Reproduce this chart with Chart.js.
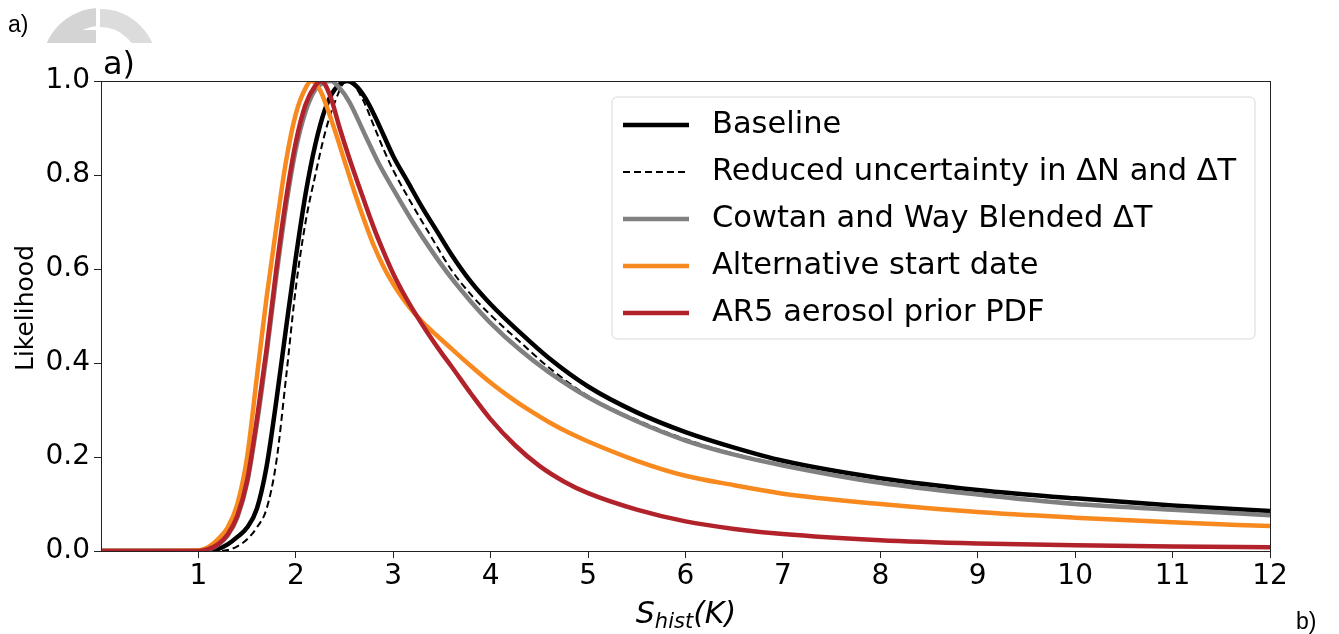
<!DOCTYPE html>
<html>
<head>
<meta charset="utf-8">
<script src="https://cdn.jsdelivr.net/npm/chart.js@4.4.1/dist/chart.umd.min.js"></script>
<style>
  html, body { margin: 0; padding: 0; background: #ffffff; }
  #wrap { position: relative; width: 1339px; height: 634px; }
  canvas { display: block; }
</style>
</head>
<body>
<div id="wrap"><canvas id="c" width="1339" height="634"></canvas></div>
<script>
// ---------- data ----------
const seriesLabels = [
  "Baseline",
  "Reduced uncertainty in \u0394N and \u0394T",
  "Cowtan and Way Blended \u0394T",
  "Alternative start date",
  "AR5 aerosol prior PDF"
];

const xBaseline = [0, 1.1, 1.2, 1.3, 1.4, 1.5, 1.6, 1.7, 1.8, 1.9, 2.0, 2.1, 2.2, 2.3, 2.4, 2.53, 2.6, 2.7, 2.8, 2.9, 3.0, 3.15, 3.3, 3.45, 3.6, 3.8, 4.0, 4.3, 4.6, 5.0, 5.5, 6.0, 6.5, 7, 8, 9, 10, 11, 12];
const yBaseline = [0, 0, 0.004, 0.014, 0.03, 0.05, 0.09, 0.18, 0.32, 0.475, 0.625, 0.76, 0.865, 0.94, 0.982, 1.0, 0.993, 0.968, 0.93, 0.885, 0.84, 0.785, 0.73, 0.68, 0.63, 0.572, 0.525, 0.465, 0.41, 0.35, 0.295, 0.253, 0.22, 0.192, 0.155, 0.13, 0.112, 0.097, 0.085];

const xReduced = [0, 1.2, 1.3, 1.4, 1.5, 1.6, 1.7, 1.8, 1.9, 2.0, 2.1, 2.2, 2.3, 2.4, 2.52, 2.6, 2.7, 2.8, 2.9, 3.0, 3.2, 3.4, 3.6, 3.8, 4.0, 4.3, 4.6, 5.0, 5.5, 6.0, 6.5, 7, 8, 9, 10, 11, 12];
const yReduced = [0, 0, 0.002, 0.01, 0.025, 0.05, 0.09, 0.19, 0.37, 0.56, 0.70, 0.80, 0.89, 0.955, 1.0, 0.99, 0.955, 0.905, 0.855, 0.81, 0.735, 0.665, 0.597, 0.545, 0.502, 0.445, 0.39, 0.33, 0.279, 0.238, 0.207, 0.184, 0.147, 0.122, 0.102, 0.089, 0.078];

const xCowtan = [0, 1.0, 1.1, 1.2, 1.3, 1.4, 1.5, 1.6, 1.7, 1.8, 1.9, 2.0, 2.1, 2.2, 2.3, 2.36, 2.45, 2.55, 2.7, 2.85, 3.0, 3.2, 3.4, 3.6, 3.8, 4.0, 4.3, 4.6, 5.0, 5.5, 6.0, 6.5, 7, 8, 9, 10, 11, 12];
const yCowtan = [0, 0, 0.003, 0.013, 0.033, 0.072, 0.145, 0.27, 0.42, 0.585, 0.735, 0.855, 0.935, 0.982, 0.998, 1.0, 0.985, 0.955, 0.89, 0.825, 0.77, 0.70, 0.637, 0.58, 0.53, 0.485, 0.428, 0.38, 0.327, 0.276, 0.235, 0.205, 0.182, 0.145, 0.12, 0.10, 0.088, 0.076];

const xAltStart = [0, 1.0, 1.1, 1.2, 1.3, 1.4, 1.5, 1.6, 1.7, 1.8, 1.9, 2.0, 2.1, 2.16, 2.25, 2.4, 2.5, 2.6, 2.7, 2.8, 2.9, 3.0, 3.1, 3.2, 3.3, 3.45, 3.6, 3.8, 4.0, 4.2, 4.4, 4.6, 4.8, 5.0, 5.5, 6.0, 6.5, 7, 8, 9, 10, 11, 12];
const yAltStart = [0, 0.001, 0.008, 0.025, 0.05, 0.10, 0.20, 0.37, 0.54, 0.69, 0.83, 0.93, 0.985, 1.0, 0.98, 0.895, 0.83, 0.765, 0.705, 0.65, 0.605, 0.568, 0.537, 0.51, 0.487, 0.458, 0.43, 0.393, 0.358, 0.327, 0.299, 0.274, 0.252, 0.233, 0.192, 0.16, 0.14, 0.122, 0.10, 0.083, 0.071, 0.061, 0.053];

const xAR5 = [0, 1.0, 1.1, 1.2, 1.3, 1.4, 1.5, 1.6, 1.7, 1.8, 1.9, 2.0, 2.1, 2.2, 2.26, 2.35, 2.45, 2.55, 2.65, 2.8, 2.9, 3.0, 3.1, 3.2, 3.35, 3.5, 3.6, 3.8, 4.0, 4.25, 4.5, 4.75, 5.0, 5.5, 6.0, 6.5, 7, 8, 9, 10, 11, 12];
const yAR5 = [0, 0, 0.004, 0.014, 0.035, 0.075, 0.15, 0.28, 0.43, 0.60, 0.75, 0.87, 0.95, 0.99, 1.0, 0.97, 0.9, 0.835, 0.775, 0.688, 0.637, 0.59, 0.55, 0.514, 0.465, 0.42, 0.392, 0.334, 0.28, 0.225, 0.181, 0.148, 0.123, 0.088, 0.063, 0.047, 0.036, 0.023, 0.016, 0.012, 0.0095, 0.008];

const xTickValues = [1, 2, 3, 4, 5, 6, 7, 8, 9, 10, 11, 12];
const yTickValues = [0, 0.2, 0.4, 0.6, 0.8, 1.0];

// ---------- build datasets ----------
function pts(xs, ys) { return xs.map((x, i) => ({ x: x, y: ys[i] })); }

const seriesX = [xBaseline, xReduced, xCowtan, xAltStart, xAR5];
const seriesY = [yBaseline, yReduced, yCowtan, yAltStart, yAR5];
const seriesColors = ["#000000", "#000000", "#808080", "#f7891f", "#b2222a"];
const seriesWidths = [4.5, 2, 4.5, 4.5, 4.5];
const seriesDash = [[], [7, 4], [], [], []];
const seriesOrder = [5, 4, 3, 2, 1];

const datasets = seriesLabels.map((lab, i) => ({
  label: lab,
  data: pts(seriesX[i], seriesY[i]),
  borderColor: seriesColors[i],
  backgroundColor: seriesColors[i],
  borderWidth: seriesWidths[i],
  borderDash: seriesDash[i],
  pointRadius: 0,
  fill: false,
  cubicInterpolationMode: 'monotone',
  order: seriesOrder[i]
}));

const FONT = "'DejaVu Sans', sans-serif";

// ---------- plugins ----------
const decorPlugin = {
  id: 'decor',
  beforeDraw(chart) {
    const ctx = chart.ctx;
    ctx.save();
    ctx.fillStyle = '#ffffff';
    ctx.fillRect(0, 0, chart.width, chart.height);
    // faint cut-off logo at top-left
    ctx.beginPath();
    ctx.rect(0, 0, chart.width, 43);
    ctx.clip();
    ctx.fillStyle = '#d4d4d4';
    ctx.beginPath();
    ctx.arc(100, 66, 58, Math.PI, 1.5 * Math.PI);
    ctx.lineTo(97, 66);
    ctx.closePath();
    ctx.fill();
    ctx.fillStyle = '#ffffff';
    ctx.beginPath();
    ctx.arc(100, 66, 40, 0.92 * Math.PI, 1.5 * Math.PI);
    ctx.lineTo(100, 66);
    ctx.closePath();
    ctx.fill();
    ctx.fillStyle = '#d4d4d4';
    ctx.fillRect(57, 30, 40, 13);
    ctx.strokeStyle = '#dcdcdc';
    ctx.lineWidth = 18;
    ctx.beginPath();
    ctx.arc(100, 66, 48, 1.5 * Math.PI, 2 * Math.PI);
    ctx.stroke();
    ctx.fillStyle = '#ffffff';
    ctx.fillRect(96, 0, 4, 43);
    ctx.restore();
  },
  afterDraw(chart) {
    const ctx = chart.ctx;
    const a = chart.chartArea;
    ctx.save();
    // frame (spines)
    ctx.strokeStyle = '#222222';
    ctx.lineWidth = 1;
    ctx.strokeRect(Math.round(a.left) + 0.5, Math.round(a.top) + 0.5, Math.round(a.right - a.left), Math.round(a.bottom - a.top));

    // legend
    const lx = 612, ly = 97, lw = 643, lh = 242, r = 6;
    ctx.beginPath();
    ctx.moveTo(lx + r, ly);
    ctx.lineTo(lx + lw - r, ly);
    ctx.quadraticCurveTo(lx + lw, ly, lx + lw, ly + r);
    ctx.lineTo(lx + lw, ly + lh - r);
    ctx.quadraticCurveTo(lx + lw, ly + lh, lx + lw - r, ly + lh);
    ctx.lineTo(lx + r, ly + lh);
    ctx.quadraticCurveTo(lx, ly + lh, lx, ly + lh - r);
    ctx.lineTo(lx, ly + r);
    ctx.quadraticCurveTo(lx, ly, lx + r, ly);
    ctx.closePath();
    ctx.fillStyle = 'rgba(255,255,255,0.85)';
    ctx.fill();
    ctx.strokeStyle = '#d8d8d8';
    ctx.lineWidth = 1;
    ctx.stroke();

    const rowY = [125, 172, 219, 266, 313];
    chart.data.datasets.forEach((ds, i) => {
      const y = rowY[i];
      ctx.strokeStyle = ds.borderColor;
      ctx.lineWidth = ds.borderWidth;
      ctx.setLineDash(ds.borderDash || []);
      ctx.beginPath();
      ctx.moveTo(623, y);
      ctx.lineTo(689, y);
      ctx.stroke();
      ctx.setLineDash([]);
      ctx.fillStyle = '#000000';
      ctx.font = "30.5px " + FONT;
      ctx.textAlign = 'left';
      ctx.textBaseline = 'middle';
      ctx.fillText(ds.label, 712, y);
    });

    // y-axis title
    ctx.save();
    ctx.translate(26, 308);
    ctx.rotate(-Math.PI / 2);
    ctx.font = "25px " + FONT;
    ctx.fillStyle = '#000000';
    ctx.textAlign = 'center';
    ctx.textBaseline = 'middle';
    ctx.fillText('Likelihood', 0, 0);
    ctx.restore();

    // x-axis title: S_hist(K)
    ctx.fillStyle = '#000000';
    ctx.textBaseline = 'alphabetic';
    ctx.textAlign = 'left';
    const big = "italic 30px " + FONT;
    const small = "italic 21px " + FONT;
    ctx.font = big; const wS = ctx.measureText('S').width;
    ctx.font = small; const wH = ctx.measureText('hist').width;
    ctx.font = big; const wK = ctx.measureText('(K)').width;
    const total = wS + wH + wK;
    let x0 = 686 - total / 2;
    const base = 623;
    ctx.font = big; ctx.fillText('S', x0, base); x0 += wS;
    ctx.font = small; ctx.fillText('hist', x0, base + 5); x0 += wH;
    ctx.font = big; ctx.fillText('(K)', x0, base);

    // panel labels
    ctx.font = "32px " + FONT;
    ctx.fillText('a)', 103, 74);
    ctx.font = "23px 'Liberation Sans', Arial, sans-serif";
    ctx.fillText('a)', 8, 32);
    ctx.fillText('b)', 1296, 629);
    ctx.restore();
  }
};

// ---------- chart ----------
new Chart(document.getElementById('c'), {
  type: 'line',
  data: { datasets: datasets },
  options: {
    responsive: false,
    animation: false,
    devicePixelRatio: 1,
    layout: { padding: { left: 0, right: 69, top: 81, bottom: 0 } },
    plugins: {
      legend: { display: false },
      tooltip: { enabled: false }
    },
    scales: {
      x: {
        type: 'linear',
        min: 0,
        max: 12,
        afterBuildTicks: (s) => { s.ticks = xTickValues.map(v => ({ value: v })); },
        afterFit: (s) => { s.height = 83; },
        grid: { drawOnChartArea: false, drawTicks: true, tickLength: 7, color: '#222222', tickWidth: 1 },
        border: { display: true, color: '#222222', width: 1 },
        ticks: {
          color: '#000000',
          font: { family: FONT, size: 28 },
          padding: 2,
          maxRotation: 0,
          autoSkip: false,
          callback: (v) => String(v)
        }
      },
      y: {
        type: 'linear',
        min: 0,
        max: 1,
        afterBuildTicks: (s) => { s.ticks = yTickValues.map(v => ({ value: v })); },
        afterFit: (s) => { s.width = 101; },
        grid: { drawOnChartArea: false, drawTicks: true, tickLength: 7, color: '#222222', tickWidth: 1 },
        border: { display: true, color: '#222222', width: 1 },
        ticks: {
          color: '#000000',
          font: { family: FONT, size: 28 },
          padding: 4,
          autoSkip: false,
          callback: (v) => Number(v).toFixed(1)
        }
      }
    }
  },
  plugins: [decorPlugin]
});
</script>
</body>
</html>
